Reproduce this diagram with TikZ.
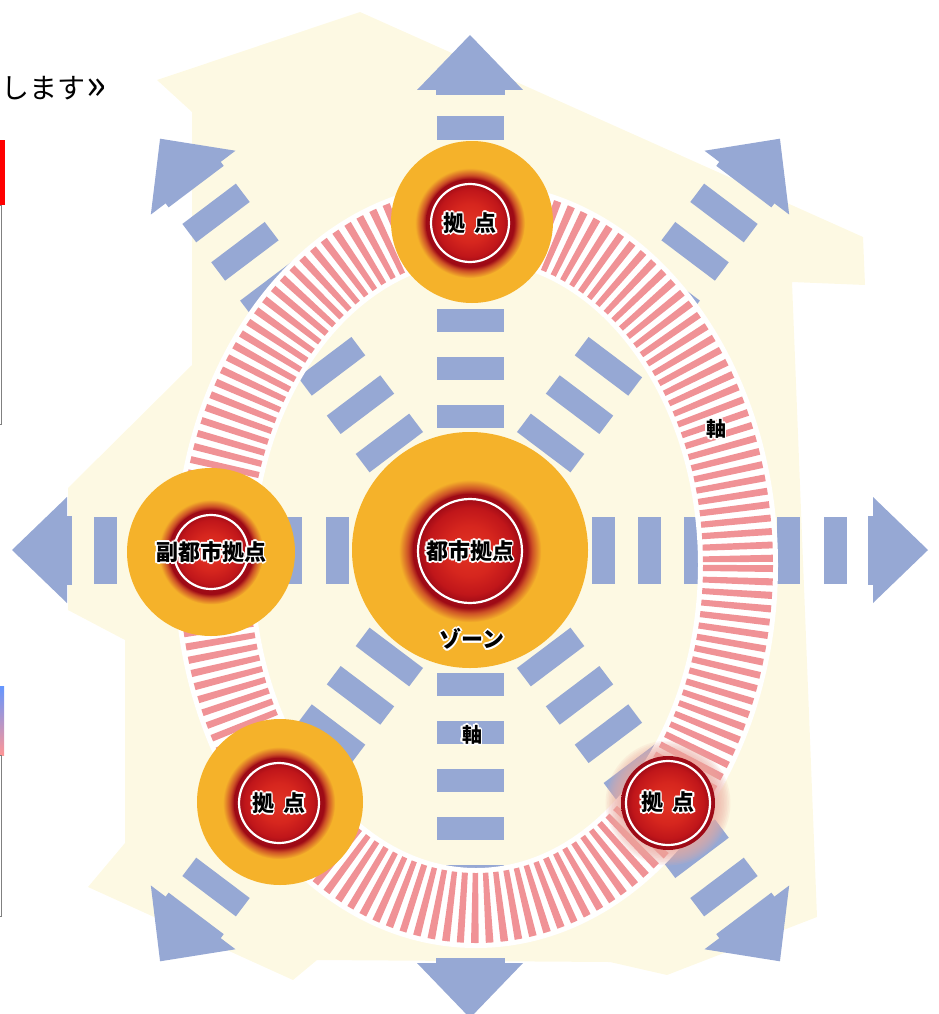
\documentclass[tikz,border=0pt]{standalone}
\usepackage{fontspec}
\newfontfamily\jp{Noto Sans CJK JP}
\definecolor{cream}{RGB}{253,249,227}
\definecolor{barblue}{RGB}{150,168,212}
\definecolor{stripe}{RGB}{240,146,150}
\definecolor{orangeC}{RGB}{245,178,42}
\definecolor{rc1}{RGB}{226,52,36}
\definecolor{rc2}{RGB}{214,38,30}
\definecolor{rc3}{RGB}{192,22,26}
\definecolor{rc4}{RGB}{158,10,22}
\definecolor{glowmid}{RGB}{205,80,38}
\definecolor{halo}{RGB}{236,170,160}
\definecolor{gblue}{RGB}{100,150,255}
\definecolor{gpink}{RGB}{255,150,150}
% a shaded path is fitted so that 25bp is its edge
\pgfdeclareradialshading{core}{\pgfpoint{0bp}{0bp}}{color(0bp)=(rc1); color(11bp)=(rc2); color(19bp)=(rc3); color(23bp)=(rc4); color(25bp)=(rc4); color(50bp)=(rc4)}
\pgfdeclareradialshading{glow}{\pgfpoint{0bp}{0bp}}{color(0bp)=(rc4); color(20bp)=(rc4); color(21.8bp)=(glowmid); color(25bp)=(orangeC); color(50bp)=(orangeC)}
\newcommand{\owt}[1]{{\setbox0\hbox{#1}%
  \def\oo##1##2{\rlap{\color{white}\kern##1\raise##2\copy0}}%
  \oo{1.8pt}{0pt}\oo{-1.8pt}{0pt}\oo{0pt}{1.8pt}\oo{0pt}{-1.8pt}%
  \oo{1.3pt}{1.3pt}\oo{-1.3pt}{1.3pt}\oo{1.3pt}{-1.3pt}\oo{-1.3pt}{-1.3pt}%
  \box0}}
\newcommand{\spokes}[5]{%
  \begin{scope}[shift={(470,550)},rotate=#1]
    \foreach \k in {0,...,#4}{\fill[barblue] ({#2+\k*#3-11.5},-33.5) rectangle ++(23,67);}
    \fill[barblue] ({#5-5},-34.5) rectangle ({#5+1},34.5);
    \fill[barblue] (#5,-53) -- ({#5+55},0) -- (#5,53) -- cycle;
  \end{scope}}
\newcommand{\hub}[6]{% ox, oy, orange r, rx, ry, red r
  \fill[orangeC] (#1,#2) circle (#3);
  \shade[shading=glow] (#4,#5) circle ({1.25*#6});
  \shade[shading=core] (#4,#5) circle (#6);
  \draw[white, line width=2.2pt] (#4,#5) circle ({#6-5});}
\tikzset{
  lbl/.style={inner sep=0pt, font={\jp\bfseries\fontsize{22pt}{24pt}\selectfont}},
}
\begin{document}
\begin{tikzpicture}[x=1pt,y=-1pt]
\useasboundingbox (0,0) rectangle (938,1014);
% background land shape
\fill[cream] (157,80) -- (360,12) -- (863,237) -- (865,285) -- (792,282) -- (817,917)
  -- (667,975) -- (610,962) -- (317,960) -- (293,980) -- (88,887) -- (125,843)
  -- (125,640) -- (68,610) -- (68,488) -- (192,365) -- (192,112) -- cycle;
% spokes
\spokes{0}{133}{46.4}{5}{403}
\spokes{180}{133}{46.4}{5}{403}
\spokes{90}{134}{48}{6}{460}
\spokes{-90}{134}{48}{5}{413}
\spokes{53}{134}{48}{6}{460}
\spokes{127}{134}{48}{6}{460}
\spokes{-53}{134}{48}{6}{460}
\spokes{-127}{134}{48}{6}{460}
% ring
\draw[white, line width=80pt] (476,565) ellipse [x radius=262, y radius=343];
\draw[stripe, line width=70pt, dash pattern=on 6.5pt off 6pt] (476,565) ellipse [x radius=262, y radius=343];
% hubs
\hub{470}{550}{118}{470}{551}{57}
\hub{472}{222}{81}{470}{223}{44}
\hub{211}{552}{84}{211}{552}{42}
\hub{280}{802}{83}{279}{803}{45}
\foreach \i in {0,...,9}{\fill[halo, opacity=0.13] (668,803) circle ({48+1.6*\i});}
\shade[shading=core] (668,803) circle (47);
\draw[white, line width=2.2pt] (668,803) circle (42);
% labels
\node[lbl] (tCenter) at (470,551) {\owt{都市拠点}};
\node[lbl] (tZone) at (472,639) {\owt{ゾーン}};
\node[lbl] (tTop) at (470,223) {\owt{拠\hspace{0.45em}点}};
\node[lbl] (tLeft) at (211,552) {\owt{副都市拠点}};
\node[lbl] (tBL) at (279,803) {\owt{拠\hspace{0.45em}点}};
\node[lbl] (tBR) at (668,802) {\owt{拠\hspace{0.45em}点}};
\node[lbl, font={\jp\bfseries\fontsize{20pt}{22pt}\selectfont}] (tAxisR) at (716,429) {\owt{軸}};
\node[lbl, font={\jp\bfseries\fontsize{20pt}{22pt}\selectfont}] (tAxisB) at (472,735) {\owt{軸}};
% web page fragments at the left edge
\node[anchor=base west, inner sep=0pt, font={\jp\fontsize{28pt}{28pt}\selectfont}] (tWeb) at (1,99) {します\hspace{1pt}\raisebox{-1pt}{\scalebox{1.5}{»}}};
\fill[red] (0,140) rectangle (5,205);
\draw[gray, line width=1.3pt] (-2,205.5) -- (1.5,205.5) -- (1.5,424.5) -- (-2,424.5);
\shade[top color=gblue, bottom color=gpink] (0,686) rectangle (4,755);
\draw[gray, line width=1.3pt] (-2,755.5) -- (1.5,755.5) -- (1.5,916.5) -- (-2,916.5);
\end{tikzpicture}
\end{document}
